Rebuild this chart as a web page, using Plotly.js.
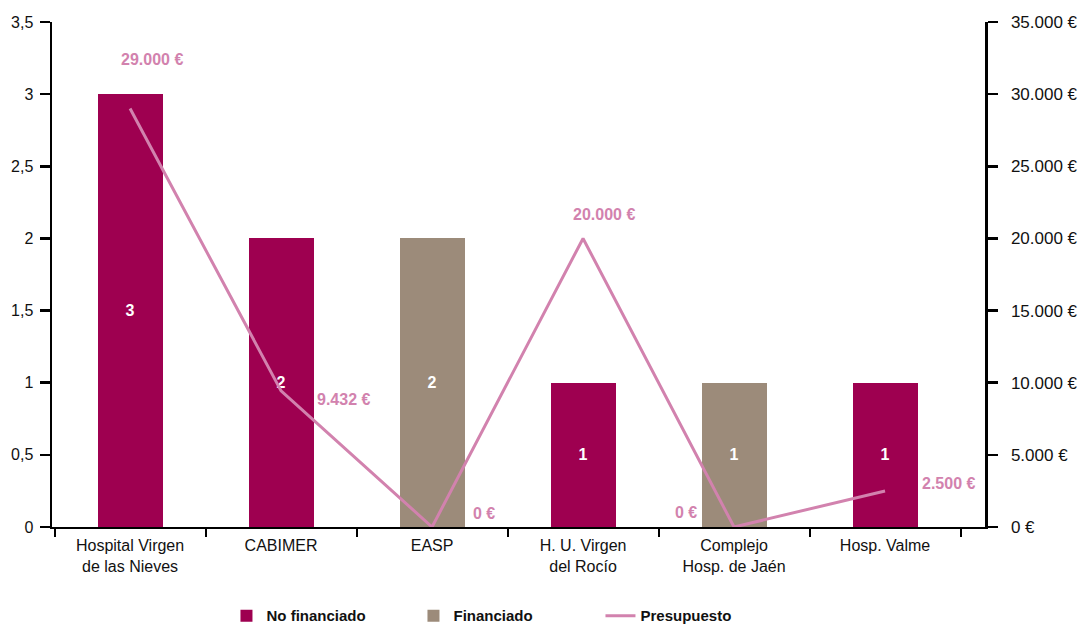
<!DOCTYPE html>
<html>
<head>
<meta charset="utf-8">
<script src="https://cdn.plot.ly/plotly-3.0.1.min.js"></script>
<style>html,body{margin:0;padding:0;background:#fff;}#chart{width:1084px;height:625px;}</style>
</head>
<body>
<div id="chart"></div>
<script>
// ---- data ----
var categories = ["Hospital Virgen<br>de las Nieves", "CABIMER", "EASP", "H. U. Virgen<br>del Rocío", "Complejo<br>Hosp. de Jaén", "Hosp. Valme"];
var noFinanciado = [3, 2, null, 1, null, 1];
var financiado = [null, null, 2, null, 1, null];
var presupuesto = [29000, 9432, 0, 20000, 0, 2500];

// ---- styles ----
var colNoFin = "#9E0050";
var colFin = "#9C8B7A";
var colPres = "#D282AE";
var fontFam = "Liberation Sans, Arial, sans-serif";
// label offsets (pixels) relative to each point: [xshift, yshift, xanchor]
var labelShift = [[22, 49, "center"], [34, -9, "left"], [39, 14, "left"], [21, 24, "center"], [-35, 15, "right"], [35, 7, "left"]];

function fmtEuro(v) {
  return String(v).replace(/\B(?=(\d{3})+(?!\d))/g, ".") + " €";
}

var barText = {color: "#ffffff", family: fontFam, size: 16, weight: "bold"};

var traces = [
  {
    type: "bar", name: "No financiado", x: categories, y: noFinanciado,
    marker: {color: colNoFin}, width: 0.43,
    texttemplate: "%{y}", textposition: "inside", insidetextanchor: "middle",
    textangle: 0, textfont: barText, hoverinfo: "skip"
  },
  {
    type: "bar", name: "Financiado", x: categories, y: financiado,
    marker: {color: colFin}, width: 0.43,
    texttemplate: "%{y}", textposition: "inside", insidetextanchor: "middle",
    textangle: 0, textfont: barText, hoverinfo: "skip"
  },
  {
    type: "scatter", mode: "lines", name: "Presupuesto", x: categories, y: presupuesto,
    yaxis: "y2", line: {color: colPres, width: 3}, hoverinfo: "skip"
  }
];

var annotations = presupuesto.map(function (v, i) {
  return {
    x: categories[i], y: v, xref: "x", yref: "y2", showarrow: false,
    text: fmtEuro(v), xanchor: labelShift[i][2], yanchor: "middle",
    xshift: labelShift[i][0], yshift: labelShift[i][1],
    font: {family: fontFam, size: 16, color: colPres, weight: "bold"}
  };
});

var layout = {
  width: 1084, height: 625,
  margin: {l: 52, r: 99, t: 22, b: 98, pad: 0, autoexpand: false},
  paper_bgcolor: "#ffffff", plot_bgcolor: "#ffffff",
  barmode: "stack",
  separators: ",.",
  showlegend: true,
  font: {family: fontFam, size: 16, color: "#111111"},
  xaxis: {
    type: "category", range: [-0.517, 5.662], automargin: false,
    showline: true, linecolor: "#000", linewidth: 2,
    ticks: "outside", tickson: "boundaries", ticklen: 8, tickwidth: 2, tickcolor: "#000",
    ticklabelstandoff: 3,
    showgrid: false, zeroline: false, fixedrange: true,
    tickfont: {family: fontFam, size: 16, color: "#111"}
  },
  yaxis: {
    range: [0, 3.5], dtick: 0.5, tick0: 0, automargin: false,
    showline: true, linecolor: "#000", linewidth: 2.5,
    ticks: "outside", ticklen: 10, tickwidth: 2.5, tickcolor: "#000",
    ticklabelstandoff: 3,
    showgrid: false, zeroline: false, fixedrange: true,
    tickfont: {family: fontFam, size: 16, color: "#111"}
  },
  yaxis2: {
    overlaying: "y", side: "right", automargin: false,
    range: [0, 35000], dtick: 5000, tick0: 0,
    tickformat: ",d", ticksuffix: " €",
    showline: true, linecolor: "#000", linewidth: 2.5,
    ticks: "outside", ticklen: 10, tickwidth: 2.5, tickcolor: "#000",
    ticklabelstandoff: 10,
    showgrid: false, zeroline: false, fixedrange: true,
    tickfont: {family: fontFam, size: 17, color: "#111"}
  },
  legend: {
    orientation: "h", x: 0.187, xanchor: "left", y: -0.176, yanchor: "middle",
    entrywidth: 142, entrywidthmode: "pixels",
    font: {family: fontFam, size: 15, color: "#111", weight: "bold"},
    traceorder: "normal", itemclick: false, itemdoubleclick: false
  },
  annotations: annotations
};

Plotly.newPlot("chart", traces, layout, {displayModeBar: false, staticPlot: true});
</script>
</body>
</html>
